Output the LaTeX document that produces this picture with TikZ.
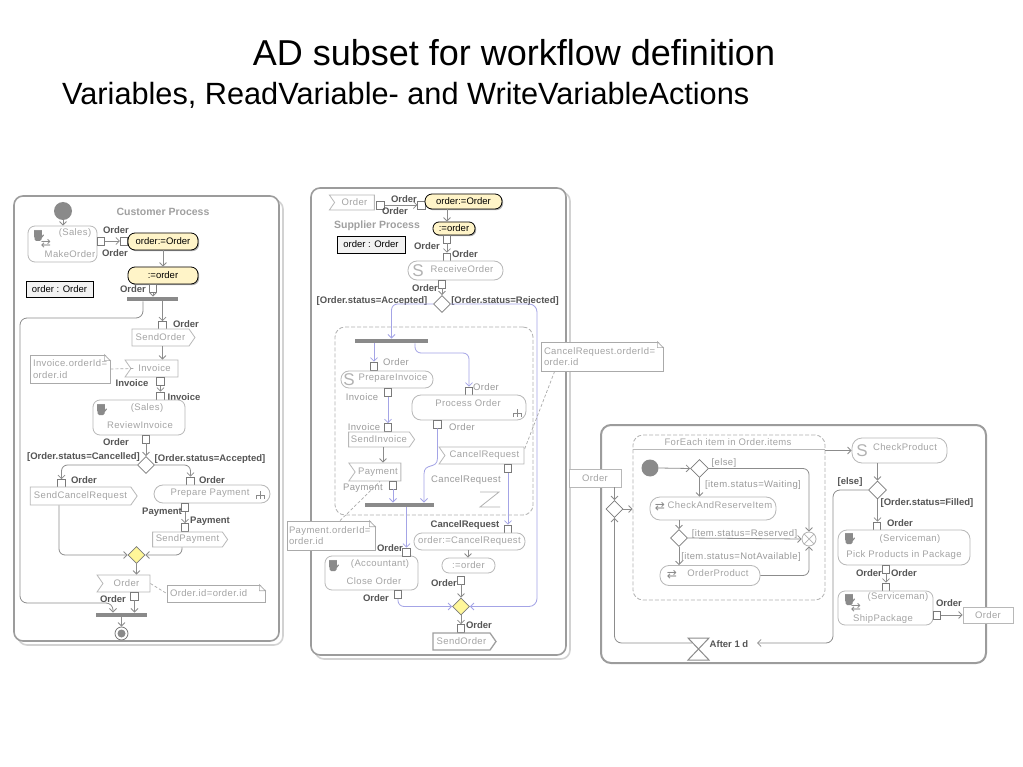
\documentclass[tikz,border=0pt]{standalone}
\usepackage{fontspec}
\setmainfont{Liberation Sans}
\newfontfamily\dejavu{DejaVu Sans}
\newfontfamily\actfam[LetterSpace=4]{Liberation Sans}
\usetikzlibrary{arrows.meta,shapes.geometric,shapes.symbols,calc,shadows}
\definecolor{actb}{HTML}{B8B8B8}
\definecolor{actt}{HTML}{A4A4A4}
\definecolor{lblc}{HTML}{555555}
\definecolor{lblgc}{HTML}{9A9A9A}
\definecolor{flowc}{HTML}{8C8C8C}
\definecolor{lavc}{HTML}{A4A4E6}
\definecolor{pinc}{HTML}{7A7A7A}
\definecolor{panc}{HTML}{9C9C9C}
\definecolor{pans}{HTML}{D2D2D2}
\definecolor{yfill}{HTML}{FFF4C8}
\definecolor{ymerge}{HTML}{FFF799}
\definecolor{barc}{HTML}{8A8A8A}
\definecolor{ptc}{HTML}{A0A0A0}
\definecolor{notec}{HTML}{AAAAAA}
\definecolor{iconc}{HTML}{8A8A8A}
\newcommand\actf{\actfam\fontsize{9.5}{11.5}\selectfont}
\newcommand\lblf{\bfseries\fontsize{9.5}{11}\selectfont}
\newcommand\asf{\fontsize{9.5}{11}\selectfont}
\newcommand\ptf{\bfseries\fontsize{10.5}{12}\selectfont}
\newcommand\myhand[1]{%
  \fill[iconc, rounded corners=1.5pt] ($(#1)+(-3.5,1)$) rectangle ($(#1)+(3.5,6)$);
  \foreach \dx in {-3,-1,1,3}{\draw[iconc, line width=1.2pt, line cap=round] ($(#1)+(\dx,-4.5)$) -- ($(#1)+(\dx,2)$);}
  \draw[iconc, line width=1.2pt, line cap=round] ($(#1)+(3,3)$) -- ($(#1)+(5.5,0)$);}
\newcommand\myarr[1]{\node[font=\dejavu\fontsize{12}{12}\selectfont, text=iconc, inner sep=0pt] at (#1) {⇄};}
\newcommand\mys[1]{\node[font=\fontsize{17}{17}\selectfont, text=gray!60, inner sep=0pt] at (#1) {S};}
\newcommand\myrake[1]{%
  \draw[iconc, line width=0.7pt] ($(#1)+(-4,4)$) -- ($(#1)+(-4,0)$) -- ($(#1)+(4,0)$) -- ($(#1)+(4,4)$);
  \draw[iconc, line width=0.7pt] ($(#1)+(0,-4)$) -- ($(#1)+(0,4)$);}
\newcommand\myfold[1]{%
  \fill[white] ($(#1.north east)+(-6,-1)$) -- ($(#1.north east)+(1,-1)$) -- ($(#1.north east)+(1,6)$) -- cycle;
  \draw[notec, line width=0.7pt] ($(#1.north east)+(-6,0)$) -- ($(#1.north east)+(0,6)$) -- ($(#1.north east)+(-6,6)$) -- cycle;}
\begin{document}
\begin{tikzpicture}[x=1pt,y=-1pt,
  actbox/.style={draw=actb, rounded corners=7pt, line width=0.8pt, fill=white, inner sep=0pt},
  pill/.style={draw=actb, rounded corners=8pt, line width=0.8pt, fill=white, inner sep=0pt, text=actt, font=\actf},
  pinbox/.style={draw=pinc, fill=white, line width=0.7pt, minimum width=7.5pt, minimum height=8pt, inner sep=0pt},
  lbl/.style={font=\lblf, text=lblc, inner sep=0pt},
  lblg/.style={font=\actf, text=lblgc, inner sep=0pt},
  atx/.style={font=\actf, text=actt, inner sep=0pt},
  sendsig/.style={signal, signal to=east, signal pointer angle=110, draw=actb, line width=0.8pt, fill=white, text=actt, font=\actf, inner sep=0pt},
  accsig/.style={signal, signal to=nowhere, signal from=west, signal pointer angle=110, draw=actb, line width=0.8pt, fill=white, text=actt, font=\actf, inner sep=0pt},
  notebox/.style={draw=notec, fill=white, line width=0.7pt, font=\actf, text=actt, align=left, inner sep=0pt},
  notedash/.style={draw=notec, line width=0.7pt, dash pattern=on 3pt off 2pt},
  decis/.style={diamond, draw=pinc, fill=white, line width=0.8pt, minimum width=17pt, minimum height=17pt, inner sep=0pt},
  mergey/.style={decis, fill=ymerge},
  forkbar/.style={fill=barc, draw=none, inner sep=0pt},
  flow/.style={draw=flowc, line width=0.8pt, -{Straight Barb[length=3.5pt,width=7pt]}},
  lav/.style={flow, draw=lavc},
  assign/.style={draw=black, fill=yfill, rounded corners=7pt, line width=0.8pt, font=\asf, inner sep=0pt, drop shadow={shadow xshift=1.2pt, shadow yshift=-1.2pt, fill=gray!80, opacity=0.8}},
  varbox/.style={draw=black, fill=gray!10, line width=0.8pt, font=\asf, inner sep=0pt},
  ptitle/.style={font=\ptf, text=ptc, inner sep=0pt},
  initn/.style={circle, fill=barc, minimum size=18pt, inner sep=0pt},
  region/.style={draw=gray!60, dash pattern=on 4pt off 2pt, rounded corners=10pt, line width=0.8pt, inner sep=0pt}
]
\useasboundingbox (0,0) rectangle (1023,767);

% titles
\node[font=\fontsize{36}{40}\selectfont, anchor=base, inner sep=0pt] (title) at (514,66) {AD subset for workflow definition};
\node[font=\fontsize{30.7}{34}\selectfont, anchor=base west, inner sep=0pt] (subtitle) at (62,105) {Variables, ReadVariable- and WriteVariableActions};

% ================= LEFT PANEL =================
\draw[pans, line width=1.6pt, rounded corners=9pt] (18,200) rectangle (283,645);
\draw[panc, line width=1.6pt, rounded corners=9pt, fill=white] (14,196) rectangle (279,641);
\node[ptitle] (l-title) at (163,212) {Customer Process};
\node[initn] (l-init) at (63,211) {};
\node[actbox, minimum width=69pt, minimum height=36pt] (l-make) at (62.5,244) {};
\node[atx] (l-make1) at (75,233) {(Sales)};
\node[atx] (l-make2) at (70,254) {MakeOrder};
\myhand{38,235}
\myarr{46,244}
\node[pinbox] (l-p1) at (101,241) {};
\node[pinbox] (l-p2) at (124,241) {};
\node[lbl] at (116,230) {Order};
\node[lbl] at (115,253) {Order};
\node[assign, minimum width=70pt, minimum height=17pt] (l-as1) at (163,241.5) {order:=Order};
\node[assign, minimum width=70pt, minimum height=17pt] (l-as2) at (163,275.5) {:=order};
\node[varbox, minimum width=67pt, minimum height=16pt] (l-var) at (59.5,289) {order : Order};
\node[pinbox] (l-p3) at (153,288.5) {};
\node[lbl] at (133,289.5) {Order};
\node[forkbar, minimum width=51pt, minimum height=4.5pt] (l-fork) at (152.5,299) {};
\node[pinbox] (l-p4) at (162.5,325.5) {};
\node[lbl] at (186,324) {Order};
\node[sendsig, minimum width=63pt, minimum height=17pt] (l-sendorder) at (160.5,337.5) {SendOrder};
\node[accsig, minimum width=53pt, minimum height=17pt] (l-invoice) at (154.5,368.5) {Invoice};
\node[notebox, minimum width=80pt, minimum height=28pt, text width=74pt] (l-note1) at (70,369) {Invoice.orderId=\\order.id};
\myfold{l-note1}
\node[pinbox] (l-p5) at (160.5,381.5) {};
\node[lbl] at (132,383) {Invoice};
\node[pinbox] (l-p6) at (160.5,396) {};
\node[lbl] at (184,397) {Invoice};
\node[actbox, minimum width=92pt, minimum height=35pt] (l-review) at (139,417.5) {};
\node[atx] at (147,408.5) {(Sales)};
\node[atx] at (140,425) {ReviewInvoice};
\myhand{101,409}
\node[pinbox] (l-p7) at (146,439) {};
\node[lbl] at (116,442) {Order};
\node[decis] (l-dec) at (146,465) {};
\node[lbl] at (83.5,457) {[Order.status=Cancelled]};
\node[lbl] at (210,459) {[Order.status=Accepted]};
\node[pinbox] (l-p8) at (61.5,483.5) {};
\node[lbl] at (84,480) {Order};
\node[sendsig, minimum width=107pt, minimum height=18pt] (l-scr) at (80.5,496) {SendCancelRequest};
\node[pinbox] (l-p9) at (190.5,481) {};
\node[lbl] at (212,480) {Order};
\node[pill, minimum width=116pt, minimum height=18pt, rounded corners=9pt] (l-prep) at (212,494) {};
\node[atx] at (210,493) {Prepare Payment};
\myrake{260,495}
\node[pinbox] (l-p10) at (185,507.5) {};
\node[lbl] at (162,512.5) {Payment};
\node[pinbox] (l-p11) at (185,527.5) {};
\node[lbl] at (210,521) {Payment};
\node[sendsig, minimum width=75pt, minimum height=15pt] (l-sp) at (187.5,539.5) {SendPayment};
\node[mergey] (l-merge) at (136.5,555) {};
\node[accsig, minimum width=53pt, minimum height=17pt] (l-ordev) at (126.5,583.5) {Order};
\node[notebox, minimum width=98pt, minimum height=17pt, text width=92pt] (l-note2) at (216,593.5) {Order.id=order.id};
\myfold{l-note2}
\node[pinbox] (l-p12) at (134.5,596) {};
\node[lbl] at (113,599) {Order};
\node[forkbar, minimum width=51pt, minimum height=4.5pt] (l-join) at (121.5,615) {};
\node[circle, draw=pinc, fill=white, line width=0.8pt, minimum size=13pt, inner sep=0pt] (l-final) at (121.5,633.5) {};
\fill[barc] (l-final.center) circle[radius=4pt];

\draw[flow] (l-init.south) -- (l-init.south |- l-make.north);
\draw[flow] (l-p1.east) -- (l-p2.west);
\draw[flow] (l-as1.south) -- (l-as2.north);
\draw[flow] (l-p3.south) -- (l-p3 |- l-fork.north);
\draw[flow] (l-p4 |- l-fork.south) -- (l-p4.north);
\draw[flow] (l-p4 |- l-sendorder.south) -- (l-p4 |- l-invoice.north);
\draw[notedash] (l-note1.east) -- ($(l-invoice.west)+(4,0)$);
\draw[flow] (l-p5.south) -- (l-p6.north);
\draw[flow] (l-p7.south) -- (l-dec.north);
\draw[flow, rounded corners=6pt] (l-dec.west) -- (l-dec.west -| l-p8) -- (l-p8.north);
\draw[flow, rounded corners=6pt] (l-dec.east) -- (l-dec.east -| l-p9) -- (l-p9.north);
\draw[flow] (l-p10.south) -- (l-p11.north);
\draw[flow, rounded corners=6pt] (59,0 |- l-scr.south) -- (59,0 |- l-merge.west) -- (l-merge.west);
\draw[flow, rounded corners=6pt] (182,0 |- l-sp.south) -- (182,0 |- l-merge.east) -- (l-merge.east);
\draw[flow] (l-merge.south) -- (l-merge |- l-ordev.north);
\draw[notedash] (l-ordev.east) -- (l-note2.west);
\draw[flow] (l-p12.south) -- (l-p12 |- l-join.north);
\draw[flow, rounded corners=7pt] (143,0 |- l-fork.south) -- (143,318) -- (20,318) -- (20,603) -- (113,603) -- (113,0 |- l-join.north);
\draw[flow] (l-join.south) -- (l-final.north);

% ================= MIDDLE PANEL =================
\draw[pans, line width=1.6pt, rounded corners=9pt] (315,192) rectangle (570,659);
\draw[panc, line width=1.6pt, rounded corners=9pt, fill=white] (311,188) rectangle (566,655);
\node[accsig, minimum width=45pt, minimum height=15pt] (m-ordin) at (354.5,202.5) {Order};
\node[pinbox] (m-p1) at (380.5,205) {};
\node[lbl] at (404,199) {Order};
\node[lbl] at (395,211.5) {Order};
\node[pinbox] (m-p2) at (421.5,205) {};
\node[assign, minimum width=77pt, minimum height=15pt] (m-as1) at (463.5,201.5) {order:=Order};
\node[assign, minimum width=42pt, minimum height=13pt, rounded corners=6pt] (m-as2) at (454,228.5) {:=order};
\node[ptitle] at (377,226) {Supplier Process};
\node[varbox, minimum width=68pt, minimum height=17pt] (m-var) at (371,244.5) {order : Order};
\node[pinbox] (m-p3) at (447,239) {};
\node[lbl] at (427,246) {Order};
\node[pinbox] (m-p4) at (447,257) {};
\node[lbl] at (465,254) {Order};
\node[pill, minimum width=95pt, minimum height=19pt, rounded corners=9pt] (m-recv) at (455.5,270.5) {};
\mys{418,270.5}
\node[atx] at (462,269) {ReceiveOrder};
\node[pinbox] (m-p5) at (442,284) {};
\node[lbl] at (425,288) {Order};
\node[decis] (m-dec) at (442,304) {};
\node[lbl] at (372,301) {[Order.status=Accepted]};
\node[lbl] at (505,301) {[Order.status=Rejected]};

\node[region, minimum width=198pt, minimum height=188pt] (m-region) at (434,421) {};
\node[forkbar, minimum width=73pt, minimum height=4.5pt] (m-fork) at (391.5,341) {};
\node[pinbox] (m-p6) at (374,366) {};
\node[lblg] at (396,362) {Order};
\node[pinbox] (m-p7) at (469,391) {};
\node[lblg] at (486,387) {Order};
\node[pill, minimum width=92pt, minimum height=17pt] (m-prepinv) at (387,379.5) {};
\mys{349,379.5}
\node[atx] at (393,378.5) {PrepareInvoice};
\node[pinbox] (m-p8) at (388,392.5) {};
\node[lblg] at (362,397.5) {Invoice};
\node[pinbox] (m-p9) at (388,427.5) {};
\node[lblg] at (364,427) {Invoice};
\node[sendsig, minimum width=66pt, minimum height=15pt] (m-sendinv) at (379,439.5) {SendInvoice};
\node[accsig, minimum width=52pt, minimum height=18pt] (m-payev) at (378,472) {Payment};
\node[pinbox] (m-p10) at (393,485) {};
\node[lblg] at (363,488) {Payment};
\node[forkbar, minimum width=69pt, minimum height=4.5pt] (m-join) at (399.5,505) {};
\node[actbox, minimum width=114pt, minimum height=25pt, rounded corners=9pt] (m-proc) at (469,407.5) {};
\node[atx] at (468,403) {Process Order};
\myrake{517,413}
\node[pinbox] (m-p11) at (437.5,424) {};
\node[lblg] at (462,427) {Order};
\node[accsig, minimum width=85pt, minimum height=17pt] (m-cancel) at (484.5,455.5) {CancelRequest};
\node[pinbox] (m-p12) at (508,468.5) {};
\node[lblg] at (466,480) {CancelRequest};
\draw[gray!60, line width=0.8pt] (480,492) -- (499,492) -- (480,507) -- (500,507);

\node[notebox, minimum width=88pt, minimum height=29pt, text width=84pt] (m-note1) at (331,535.5) {Payment.orderId=\\order.id};
\myfold{m-note1}
\node[notebox, minimum width=122pt, minimum height=29pt, text width=116pt] (m-note2) at (602,356.5) {CancelRequest.orderId=\\order.id};
\myfold{m-note2}

\node[lbl] at (465,525.5) {CancelRequest};
\node[pinbox] (m-p13) at (508,529) {};
\node[pill, minimum width=111pt, minimum height=17pt] (m-as3) at (469.5,541.5) {order:=CancelRequest};
\node[pill, minimum width=53pt, minimum height=15pt, rounded corners=7pt] (m-as4) at (468.5,565.5) {:=order};
\node[pinbox] (m-p14) at (461,580) {};
\node[lbl] at (444,583) {Order};
\node[mergey] (m-merge) at (461,606.5) {};
\node[actbox, minimum width=93pt, minimum height=34pt] (m-close) at (371.5,573) {};
\node[atx] at (380,564.5) {(Accountant)};
\node[atx] at (374,581) {Close Order};
\myhand{333,565}
\node[pinbox] (m-p15) at (406.5,552) {};
\node[lbl] at (390,548) {Order};
\node[pinbox] (m-p16) at (398,594.5) {};
\node[lbl] at (376,598) {Order};
\node[pinbox] (m-p17) at (461,628.5) {};
\node[lbl] at (479,625) {Order};
\node[sendsig, minimum width=63pt, minimum height=17pt, draw=gray!75, line width=1.3pt] (m-sendorder) at (461.5,641.5) {SendOrder};

\draw[flow] (m-p1.east) -- (m-p2.west);
\draw[flow] (447,0 |- m-as1.south) -- (447,0 |- m-as2.north);
\draw[flow] (m-p3.south) -- (m-p4.north);
\draw[flow] (m-p5.south) -- (m-dec.north);
\draw[lav, rounded corners=6pt] (m-dec.west) -- (m-fork.north |- m-dec.west) -- (m-fork.north);
\draw[lav, rounded corners=8pt] (m-dec.east) -- (537,0 |- m-dec.east) -- (537,0 |- m-merge.east) -- (m-merge.east);
\draw[lav] (m-p6 |- m-fork.south) -- (m-p6.north);
\draw[lav, rounded corners=6pt] (415,0 |- m-fork.south) -- (415,353) -- (m-p7 |- 0,353) -- (m-p7.north);
\draw[lav] (m-p8.south) -- (m-p9.north);
\draw[flow] (383,0 |- m-sendinv.south) -- (383,0 |- m-payev.north);
\draw[lav] (m-p10.south) -- (m-p10 |- m-join.north);
\draw[lav] (m-p11.south) -- (437.5,458) .. controls (437.5,470) and (424,462) .. (424,474) -- (424,0 |- m-join.north);
\draw[lav] (m-p12.south) -- (m-p13.north);
\draw[lav] (m-p15 |- m-join.south) -- (m-p15.north);
\draw[flow] (468,0 |- m-as3.south) -- (468,0 |- m-as4.north);
\draw[flow] (m-p14.south) -- (m-merge.north);
\draw[lav, rounded corners=6pt] (m-p16.south) -- (m-p16 |- m-merge.west) -- (m-merge.west);
\draw[flow] (m-merge.south) -- (m-p17.north);
\draw[notedash] ($(m-note1.north)+(9,0)$) -- ($(m-payev.south)+(2,0)$);
\draw[notedash] ($(m-note2.south west)+(14,0)$) -- ($(m-cancel.east)+(0,-6)$);

% ================= RIGHT PANEL =================
\draw[panc, line width=2pt, rounded corners=10pt, fill=white] (601,425) rectangle (986,663);
\node[actbox, rounded corners=0pt, minimum width=52pt, minimum height=18pt, text=actt, font=\actf] (r-ordin) at (595,478) {Order};
\node[decis] (r-merge) at (614.5,509) {};
\node[region, minimum width=192pt, minimum height=165pt] (r-exp) at (729,517.5) {};
\draw[gray!55, line width=0.7pt] (r-exp.west |- 0,449) -- (r-exp.east |- 0,449);
\node[atx] at (728,442) {ForEach item in Order.items};
\node[initn, minimum size=17pt] (r-init) at (650,468) {};
\node[decis, minimum width=18pt, minimum height=18pt] (r-dec1) at (699.5,468.5) {};
\node[lblg] at (724,463) {[else]};
\node[lblg] at (753,485) {[item.status=Waiting]};
\node[pill, minimum width=126pt, minimum height=23pt, rounded corners=10pt] (r-check) at (713,508.5) {};
\myarr{660,507}
\node[atx] at (720,505.5) {CheckAndReserveItem};
\node[decis] (r-dec2) at (679,538) {};
\node[lblg] at (744.5,534) {[item.status=Reserved]};
\node[lblg] at (741,557) {[item.status=NotAvailable]};
\node[pill, minimum width=100pt, minimum height=20pt, rounded corners=9pt] (r-order) at (710,575.5) {};
\myarr{672,575}
\node[atx] at (718,573.5) {OrderProduct};
\node[circle, draw=gray!60, fill=white, line width=0.8pt, minimum size=14pt, inner sep=0pt] (r-final) at (809,539) {};
\draw[gray!60, line width=0.7pt] (r-final.north west) -- (r-final.south east) (r-final.north east) -- (r-final.south west);

\draw[flowc, line width=1pt, fill=white] (688,638) -- (709,638) -- (688,660) -- (709,660) -- cycle;
\coordinate (r-time) at (698.5,649);
\node[lbl] at (729,644) {After 1 d};
\coordinate (r-timeL) at (692,643);
\coordinate (r-afterin) at (757,643);

\node[pill, minimum width=95pt, minimum height=25pt, rounded corners=10pt] (r-chk) at (899.5,450.5) {};
\mys{862,450.5}
\node[atx] at (905,447.5) {CheckProduct};
\node[decis, minimum width=18pt, minimum height=18pt] (r-dec3) at (877.5,490) {};
\node[lbl] at (850,482) {[else]};
\node[lbl] at (927,503) {[Order.status=Filled]};
\node[pinbox] (r-p1) at (877,526) {};
\node[lbl] at (900,523) {Order};
\node[actbox, minimum width=132pt, minimum height=35pt, rounded corners=9pt] (r-pick) at (904,547.5) {};
\node[atx] at (910,539) {(Serviceman)};
\node[atx] at (904,555.5) {Pick Products in Package};
\myhand{849,538}
\node[pinbox] (r-p2) at (886,569) {};
\node[lbl] at (869,573.5) {Order};
\node[pinbox] (r-p3) at (886,587) {};
\node[lbl] at (904,573.5) {Order};
\node[actbox, minimum width=95pt, minimum height=34pt] (r-ship) at (885.5,608) {};
\node[atx] at (898,597.5) {(Serviceman)};
\node[atx] at (883,619.5) {ShipPackage};
\myhand{849,599}
\myarr{856,608}
\node[pinbox] (r-p4) at (937,615) {};
\node[lbl] at (949,603) {Order};
\node[actbox, rounded corners=0pt, minimum width=50pt, minimum height=16pt, text=actt, font=\actf] (r-ordout) at (988,615) {Order};

\draw[flow] (r-merge |- r-ordin.south) -- (r-merge.north);
\draw[flow] (r-merge.east) -- (r-exp.west |- r-merge.east);
\draw[flow] (r-init.east) -- (r-dec1.west);
\draw[flow, rounded corners=6pt] (r-dec1.east) -- (r-final |- r-dec1.east) -- (r-final.north);
\draw[flow] (r-dec1.south) -- (r-dec1 |- r-check.north);
\draw[flow] (r-dec2 |- r-check.south) -- (r-dec2.north);
\draw[flow] (r-dec2.east) -- (r-final.west);
\draw[flow] (r-dec2.south) -- (r-dec2 |- r-order.north);
\draw[flow, rounded corners=6pt] (r-order.east) -- (r-final |- r-order.east) -- (r-final.south);
\draw[flow, rounded corners=7pt] (r-timeL) -- (r-merge |- r-timeL) -- (r-merge.south);
\draw[flow] (r-exp.east |- r-chk.west) -- (r-chk.west);
\draw[flow] (r-dec3 |- r-chk.south) -- (r-dec3.north);
\draw[flow, rounded corners=7pt] (r-dec3.west) -- (833,0 |- r-dec3.west) -- (833,0 |- r-afterin) -- (r-afterin);
\draw[flow] (r-dec3.south) -- (r-dec3 |- r-p1.north);
\draw[flow] (r-p2.south) -- (r-p3.north);
\draw[flow] (r-p4.east) -- (r-ordout.west);
\end{tikzpicture}
\end{document}
